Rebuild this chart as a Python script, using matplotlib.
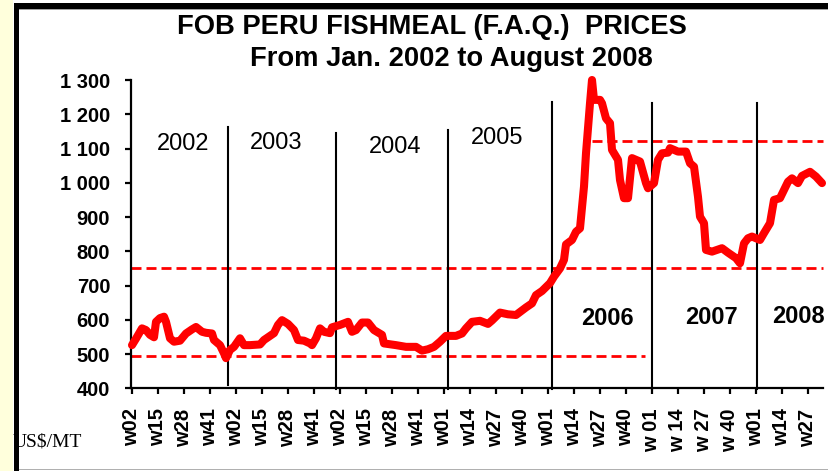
import matplotlib
matplotlib.use("Agg")
import matplotlib.pyplot as plt
from matplotlib.patches import Rectangle

# ---------------- data ----------------
# week index: 0 = 2002 w02, one unit per week
weeks = [0, 2, 5, 7, 9, 11, 12, 14, 16, 17, 19, 21, 24, 27, 30, 32, 35, 37, 40, 41,
         44, 46, 47, 49, 51, 54, 56, 59, 64, 66, 69, 71, 73, 75, 78, 81, 83, 86, 89, 90,
         92, 94, 96, 99, 100, 104, 108, 110, 112, 115, 118, 121, 125, 126, 132, 137, 142, 145, 148, 151,
         154, 157, 162, 165, 167, 170, 174, 178, 180, 184, 188, 192, 197, 200, 202, 205, 209, 211, 214, 216,
         217, 220, 222, 224, 226, 227, 229, 230, 231, 234, 235, 237, 239, 240, 243, 244, 246, 248, 250, 254,
         257, 258, 261, 263, 265, 268, 269, 273, 277, 279, 281, 283, 284, 286, 287, 290, 295, 298, 302, 304,
         306, 308, 310, 314, 316, 319, 321, 324, 328, 330, 333, 335, 339, 342, 345]
prices = [526, 545, 575, 570, 556, 549, 594, 605, 609, 594, 546, 536, 539, 560, 572, 579, 565, 562, 560, 541,
          526, 502, 488, 512, 521, 546, 526, 526, 528, 541, 553, 561, 585, 599, 588, 570, 541, 539, 531, 526,
          546, 575, 565, 561, 578, 585, 594, 565, 570, 592, 592, 570, 556, 531, 526, 521, 521, 510, 514, 521,
          536, 553, 553, 560, 575, 594, 597, 588, 598, 621, 616, 614, 636, 648, 672, 684, 707, 726, 750, 775,
          820, 833, 857, 867, 989, 1086, 1232, 1300, 1242, 1242, 1232, 1188, 1174, 1096, 1067, 1008, 955, 955, 1072, 1062,
          999, 984, 999, 1067, 1086, 1088, 1101, 1091, 1091, 1057, 1047, 959, 901, 882, 804, 799, 809, 796, 780, 765,
          823, 838, 843, 833, 853, 882, 950, 955, 1003, 1013, 999, 1020, 1032, 1018, 999]

tick_labels = ["w02", "w15", "w28", "w41",
               "w02", "w15", "w28", "w41",
               "w02", "w15", "w28", "w41",
               "w01", "w14", "w27", "w40",
               "w01", "w14", "w27", "w40",
               "w 01", "w 14", "w 27", "w 40",
               "w01", "w14", "w27"]
y_ticks = [400, 500, 600, 700, 800, 900, 1000, 1100, 1200, 1300]
y_labels = ["400", "500", "600", "700", "800", "900", "1 000", "1 100", "1 200", "1 300"]

# year separators: week position, top value, bottom value
sep_weeks = [48, 102, 158, 210, 260, 312.5]
sep_tops = [1163, 1145, 1154, 1236, 1233, 1233]
sep_bottoms = [409, 398, 398, 398, 398, 398]

# reference levels (dashed): level, start week, end week
ref_levels = [493, 750, 1122]
ref_starts = [-0.5, -0.5, 230]
ref_ends = [256.5, 345.5, 345.5]

year_names = ["2002", "2003", "2004", "2005", "2006", "2007", "2008"]
year_x = [25.5, 72, 131.5, 182.5, 237.5, 289.5, 333]
year_y = [1113, 1116, 1105, 1131, 605, 608, 611]
year_bold = [False, False, False, False, True, True, True]

# ---------------- figure ----------------
W, H = 829, 471
fig = plt.figure(figsize=(W / 100, H / 100), dpi=100)
fig.patch.set_facecolor("white")


def fx(px):
    return px / W


def fy(py):
    return 1 - py / H


ax = fig.add_axes([fx(131), fy(388.3), (823 - 131) / W, (388.3 - 80) / H])
ax.set_xlim(-0.5, 345.5)
ax.set_ylim(400, 1300)

# reference dashed lines
for lvl, s, e in zip(ref_levels, ref_starts, ref_ends):
    ax.plot([s, e], [lvl, lvl], color="#FF0000", lw=2.0, dashes=(3.6, 1.8), zorder=2, clip_on=False)

# year separators
for xw, t, b in zip(sep_weeks, sep_tops, sep_bottoms):
    ax.plot([xw, xw], [b, t], color="black", lw=1.5, zorder=3, clip_on=False)

# price line
ax.plot(weeks, prices, color="#FF0000", lw=5.8, solid_joinstyle="round",
        solid_capstyle="round", zorder=4, clip_on=False)

for name, xx, yy, bold in zip(year_names, year_x, year_y, year_bold):
    ax.text(xx, yy, name, ha="center", va="center", fontsize=17,
            fontweight="bold" if bold else "normal", family="Liberation Sans", zorder=5)

for s in ["top", "right"]:
    ax.spines[s].set_visible(False)
for s in ["left", "bottom"]:
    ax.spines[s].set_linewidth(1.6)
    ax.spines[s].set_color("black")

ax.set_yticks(y_ticks)
ax.set_yticklabels(y_labels, fontsize=14.5, fontweight="bold", family="Liberation Sans")
ax.set_xticks(list(range(0, 13 * len(tick_labels), 13)))
ax.set_xticklabels(tick_labels, rotation=90, fontsize=14.5, fontweight="bold", family="Liberation Sans")
ax.tick_params(axis="y", direction="out", length=4.5, width=1.6, pad=10.5)
ax.tick_params(axis="x", direction="out", length=4.5, width=1.6, pad=10)

# titles
fig.text(fx(431.5), fy(27), "FOB PERU FISHMEAL (F.A.Q.)  PRICES", ha="center", va="center",
         fontsize=19.7, fontweight="bold", family="Liberation Sans")
fig.text(fx(451), fy(59), "From Jan. 2002 to August 2008", ha="center", va="center",
         fontsize=19.7, fontweight="bold", family="Liberation Sans")

fig.text(fx(13), fy(442), "US$/MT", ha="left", va="center", fontsize=14, family="Liberation Serif")

# frame decorations
fig.patches.append(Rectangle((0, 0), fx(13), 1, transform=fig.transFigure,
                             facecolor="#FFFFDC", edgecolor="none", zorder=6))
fig.patches.append(Rectangle((fx(14), 0), fx(19) - fx(14), fy(3), transform=fig.transFigure,
                             facecolor="black", edgecolor="none", zorder=7))
fig.patches.append(Rectangle((fx(14), fy(9)), 1, fy(3) - fy(9), transform=fig.transFigure,
                             facecolor="black", edgecolor="none", zorder=7))
fig.patches.append(Rectangle((fx(19), fy(10)), 1, fy(9) - fy(10), transform=fig.transFigure,
                             facecolor="#A0A0A0", edgecolor="none", zorder=7))
fig.patches.append(Rectangle((fx(19), fy(470)), 1, fy(468.5) - fy(470), transform=fig.transFigure,
                             facecolor="#B0B0B0", edgecolor="none", zorder=7))

fig.savefig("out.png", dpi=100, facecolor="white")
